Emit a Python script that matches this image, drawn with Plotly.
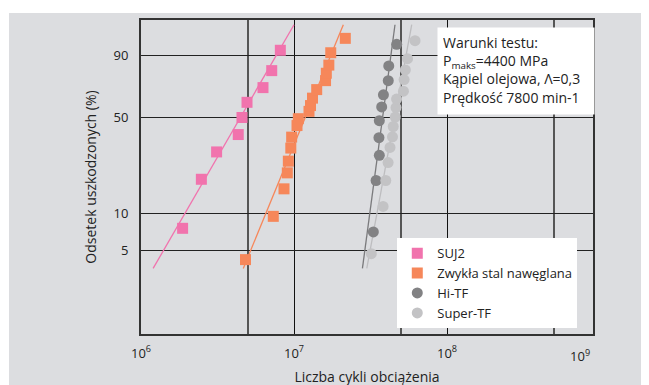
import numpy as np
import plotly.graph_objects as go

# ---- data (cycles to failure, cumulative failure %) ----
suj2_cycles = [1.87e6, 2.48e6, 3.12e6, 4.32e6, 4.57e6, 4.93e6, 6.27e6, 7.15e6, 8.14e6]
suj2_pct = [7.6, 18.6, 29.6, 38.9, 49.7, 60.3, 70.8, 82.0, 92.2]

carb_cycles = [4.82e6, 7.32e6, 8.60e6, 9.04e6, 9.18e6, 9.53e6, 9.65e6, 1.046e7, 1.067e7,
               1.253e7, 1.282e7, 1.321e7, 1.407e7, 1.607e7, 1.626e7, 1.689e7, 1.738e7, 2.164e7]
carb_pct = [4.2, 9.5, 15.7, 20.8, 25.4, 31.5, 37.4, 44.4, 48.9,
            53.9, 58.0, 63.3, 69.4, 75.6, 80.4, 85.2, 91.2, 96.0]

hitf_cycles = [3.30e7, 3.44e7, 3.61e7, 3.59e7, 3.61e7, 3.74e7, 3.84e7, 4.13e7, 4.16e7, 4.69e7]
hitf_pct = [7.1, 18.2, 28.0, 37.1, 47.6, 57.0, 65.7, 75.6, 84.7, 94.3]

stf_cycles = [3.20e7, 3.82e7, 3.98e7, 4.12e7, 4.24e7, 4.40e7, 4.45e7, 4.59e7, 4.64e7,
              4.68e7, 5.19e7, 5.24e7, 5.34e7, 5.52e7, 6.18e7]
stf_pct = [4.7, 11.4, 18.2, 24.8, 31.8, 37.6, 43.8, 50.0, 56.6,
           62.6, 68.3, 76.3, 82.4, 88.5, 95.4]

# fitted Weibull lines (end points)
fit_pct = [3.55, 98.5]
suj2_fit = [1.20e6, 1.00e7]
carb_fit = [4.66e6, 2.10e7]
hitf_fit = [2.80e7, 4.57e7]
stf_fit = [2.99e7, 5.88e7]

names = ["SUJ2", "Zwykła stal nawęglana", "Hi-TF", "Super-TF"]
y_ticks = [5, 10, 50, 90]
x_ticks = [1e6, 1e7, 1e8]
x_grid_minor = [5e6, 5e7, 5e8]


def weib(p):
    p = np.asarray(p, dtype=float) / 100.0
    return np.log(-np.log(1.0 - p))


colors = ["#f173ad", "#f6875a", "#828284", "#c3c3c5"]
line_colors = ["#f173ad", "#f6875a", "#7a7a7c", "#bdbdbf"]
symbols = ["square", "square", "circle", "circle"]

series = [(suj2_cycles, suj2_pct, suj2_fit),
          (carb_cycles, carb_pct, carb_fit),
          (hitf_cycles, hitf_pct, hitf_fit),
          (stf_cycles, stf_pct, stf_fit)]

fig = go.Figure()
for (cx, cp, fx), lc in zip(series, line_colors):
    fig.add_trace(go.Scatter(x=fx, y=weib(fit_pct), mode="lines",
                             line=dict(color=lc, width=1.3), showlegend=False,
                             hoverinfo="skip"))
for (cx, cp, fx), name, c, s in zip(series, names, colors, symbols):
    fig.add_trace(go.Scatter(x=cx, y=weib(cp), mode="markers", name=name,
                             marker=dict(color=c, size=11, symbol=s,
                                         line=dict(width=0))))

gray = "#dcdde0"
font = "Open Sans"

fig.update_layout(
    width=649, height=385,
    margin=dict(l=133, r=64, t=10, b=55),
    paper_bgcolor=gray, plot_bgcolor=gray,
    font=dict(family=font, size=13, color="#222"),
    showlegend=True,
    legend=dict(x=0.567, y=0.305, xanchor="left", yanchor="top",
                bgcolor="white", borderwidth=0,
                font=dict(family=font, size=13, color="#222"),
                itemsizing="trace", tracegroupgap=0),
    xaxis=dict(type="log", range=[6, 8.954],
               tickmode="array", tickvals=x_ticks,
               ticktext=["10<sup>6</sup>", "10<sup>7</sup>", "10<sup>8</sup>"],
               showgrid=True, gridcolor="#111", gridwidth=1.2,
               minor=dict(tickvals=x_grid_minor, showgrid=True,
                          gridcolor="#555", gridwidth=1.6, ticklen=0),
               showline=True, mirror=True, linecolor="#333", linewidth=2,
               zeroline=False, ticks="", ticklabelstandoff=6,
               tickfont=dict(size=13, color="#222"),
               title=dict(text="Liczba cykli obciążenia",
                          font=dict(size=14, color="#222"), standoff=12)),
    yaxis=dict(range=[float(weib(1)), float(weib(99))],
               tickmode="array", tickvals=weib(y_ticks).tolist(),
               ticktext=[str(v) for v in y_ticks],
               showgrid=True, gridcolor="#222", gridwidth=1.4,
               showline=True, mirror=True, linecolor="#333", linewidth=2,
               zeroline=False, ticks="", ticklabelstandoff=8,
               tickfont=dict(size=13, color="#222"),
               title=dict(text="Odsetek uszkodzonych (%)",
                          font=dict(size=14, color="#222"), standoff=14)),
)

# 10^9 label at the right end of the axis
fig.add_annotation(x=8.869, xref="x", y=0, yref="paper", yanchor="top",
                   text="10<sup>9</sup>", showarrow=False, yshift=-10,
                   font=dict(size=13, color="#222"))

# test conditions box
fig.add_annotation(xref="paper", yref="paper", x=0.654, y=0.977,
                   xanchor="left", yanchor="top", align="left", valign="top",
                   width=146, height=76, borderpad=5, bgcolor="white",
                   showarrow=False,
                   text=("Warunki testu:<br>P<sub>maks</sub>=4400 MPa<br>"
                         "Kąpiel olejowa, Λ=0,3<br>Prędkość 7800 min-1"),
                   font=dict(family=font, size=14, color="#222"))

# white strips at the top and left edge of the picture
fig.add_shape(type="rect", xref="paper", yref="paper", x0=-0.4, x1=1.3,
              y0=1.022, y1=1.2, fillcolor="white", line=dict(width=0))
fig.add_shape(type="rect", xref="paper", yref="paper", x0=-0.4, x1=-0.292,
              y0=-0.3, y1=1.2, fillcolor="white", line=dict(width=0))

fig.write_html("out.html")
